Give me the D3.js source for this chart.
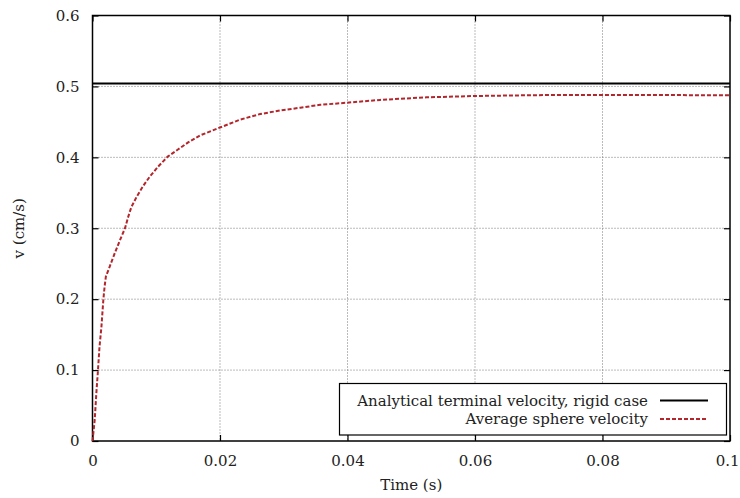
<!DOCTYPE html>
<html>
<head>
<meta charset="utf-8">
<script src="https://cdn.jsdelivr.net/npm/d3@7"></script>
<style>
  html, body { margin: 0; padding: 0; background: #fff; }
</style>
</head>
<body>
<svg id="chart" width="740" height="498"></svg>
<script>
// Simulated sphere velocity over time (s, cm/s)
const time = [0, 0.00035, 0.0006, 0.00086, 0.0011, 0.0014, 0.0017, 0.0019, 0.0021, 0.0027,
  0.0035, 0.0043, 0.0051, 0.0056, 0.0061, 0.0069, 0.0079, 0.0090, 0.0103, 0.0118,
  0.0134, 0.0150, 0.0169, 0.0200, 0.0231, 0.0263, 0.0294, 0.0326, 0.0357, 0.0399,
  0.0451, 0.0471, 0.0524, 0.0600, 0.0681, 0.0733, 0.0812, 0.0900, 0.1000];
const velocity = [0, 0.030, 0.067, 0.100, 0.133, 0.161, 0.199, 0.218, 0.232, 0.246,
  0.265, 0.283, 0.300, 0.316, 0.330, 0.344, 0.359, 0.373, 0.387, 0.401,
  0.411, 0.421, 0.431, 0.442, 0.453, 0.461, 0.466, 0.470, 0.474, 0.477,
  0.481, 0.482, 0.4846, 0.4865, 0.4875, 0.488, 0.488, 0.4878, 0.4875];
// Analytical terminal velocity for the rigid sphere (cm/s)
const terminalVelocity = 0.504;

const xTicks = [0, 0.02, 0.04, 0.06, 0.08, 0.1];
const xTickLabels = ["0", "0.02", "0.04", "0.06", "0.08", "0.1"];
const yTicks = [0, 0.1, 0.2, 0.3, 0.4, 0.5, 0.6];
const yTickLabels = ["0", "0.1", "0.2", "0.3", "0.4", "0.5", "0.6"];
const legendLabels = ["Analytical terminal velocity, rigid case", "Average sphere velocity"];

const FONT = "DejaVu Serif";
const fs = 15;
const svg = d3.select("#chart").attr("font-family", FONT);
const m = { left: 92.5, right: 730, top: 15.5, bottom: 441 };

const x = d3.scaleLinear().domain([0, 0.1]).range([m.left, m.right]);
const y = d3.scaleLinear().domain([0, 0.6]).range([m.bottom, m.top]);

// grid
const grid = svg.append("g").attr("stroke", "#777").attr("stroke-width", 1)
  .attr("stroke-dasharray", "1,2");
grid.selectAll("line.gx").data(xTicks.slice(1, -1)).join("line")
  .attr("x1", d => x(d)).attr("x2", d => x(d))
  .attr("y1", m.top).attr("y2", m.bottom);
grid.selectAll("line.gy").data(yTicks.slice(1, -1)).join("line")
  .attr("y1", d => y(d)).attr("y2", d => y(d))
  .attr("x1", m.left).attr("x2", m.right);

// axes with inward ticks, mirrored on top and right
const xAxis = d3.axisBottom(x).tickValues(xTicks).tickSizeInner(-6).tickSizeOuter(0)
  .tickPadding(14).tickFormat((d, i) => xTickLabels[i]);
const gx = svg.append("g").attr("transform", `translate(0,${m.bottom})`).call(xAxis);
const yAxis = d3.axisLeft(y).tickValues(yTicks).tickSizeInner(-6).tickSizeOuter(0)
  .tickPadding(13).tickFormat((d, i) => yTickLabels[i]);
const gy = svg.append("g").attr("transform", `translate(${m.left},0)`).call(yAxis);
const gxt = svg.append("g").attr("transform", `translate(0,${m.top})`)
  .call(d3.axisTop(x).tickValues(xTicks).tickSizeInner(-6).tickSizeOuter(0).tickFormat(""));
const gyr = svg.append("g").attr("transform", `translate(${m.right},0)`)
  .call(d3.axisRight(y).tickValues(yTicks).tickSizeInner(-6).tickSizeOuter(0).tickFormat(""));
[gx, gy, gxt, gyr].forEach(g => {
  g.attr("font-family", FONT).attr("font-size", fs);
  g.select(".domain").remove();
  g.selectAll(".tick line").attr("stroke", "#000").attr("stroke-width", 1.2);
  g.selectAll(".tick text").attr("fill", "#222");
});
// keep the last x label inside the page
gx.selectAll(".tick text").filter(d => d === 0.1).attr("text-anchor", "end").attr("x", 9);

// frame
svg.append("rect").attr("x", m.left).attr("y", m.top)
  .attr("width", m.right - m.left).attr("height", m.bottom - m.top)
  .attr("fill", "none").attr("stroke", "#000").attr("stroke-width", 1.5);

// axis titles
svg.append("text").attr("x", (m.left + m.right) / 2).attr("y", 490)
  .attr("text-anchor", "middle").attr("font-size", fs).attr("fill", "#222").text("Time (s)");
svg.append("text").attr("transform", `translate(24,${(m.top + m.bottom) / 2}) rotate(-90)`)
  .attr("text-anchor", "middle").attr("font-size", fs).attr("fill", "#222").text("v (cm/s)");

// analytical terminal velocity
svg.append("line").attr("x1", m.left).attr("x2", m.right)
  .attr("y1", y(terminalVelocity)).attr("y2", y(terminalVelocity))
  .attr("stroke", "#000").attr("stroke-width", 2);

// average sphere velocity
const pts = time.map((t, i) => [t, velocity[i]]);
svg.append("path").datum(pts)
  .attr("d", d3.line().x(d => x(d[0])).y(d => y(d[1])))
  .attr("fill", "none").attr("stroke", "#b3262c").attr("stroke-width", 2)
  .attr("stroke-dasharray", "4,2");

// legend
const lg = svg.append("g");
lg.append("rect").attr("x", 339.5).attr("y", 383.5).attr("width", 387).attr("height", 51.5)
  .attr("fill", "#fff").attr("stroke", "#000").attr("stroke-width", 1.2);
const rowY = [400.5, 419];
lg.selectAll("text").data(legendLabels).join("text")
  .attr("x", 648).attr("y", (d, i) => rowY[i] + 5)
  .attr("text-anchor", "end").attr("font-size", fs).attr("fill", "#222").text(d => d);
lg.append("line").attr("x1", 660).attr("x2", 708).attr("y1", rowY[0]).attr("y2", rowY[0])
  .attr("stroke", "#000").attr("stroke-width", 2);
lg.append("line").attr("x1", 660).attr("x2", 708).attr("y1", rowY[1]).attr("y2", rowY[1])
  .attr("stroke", "#b3262c").attr("stroke-width", 2).attr("stroke-dasharray", "4,2");
</script>
</body>
</html>
